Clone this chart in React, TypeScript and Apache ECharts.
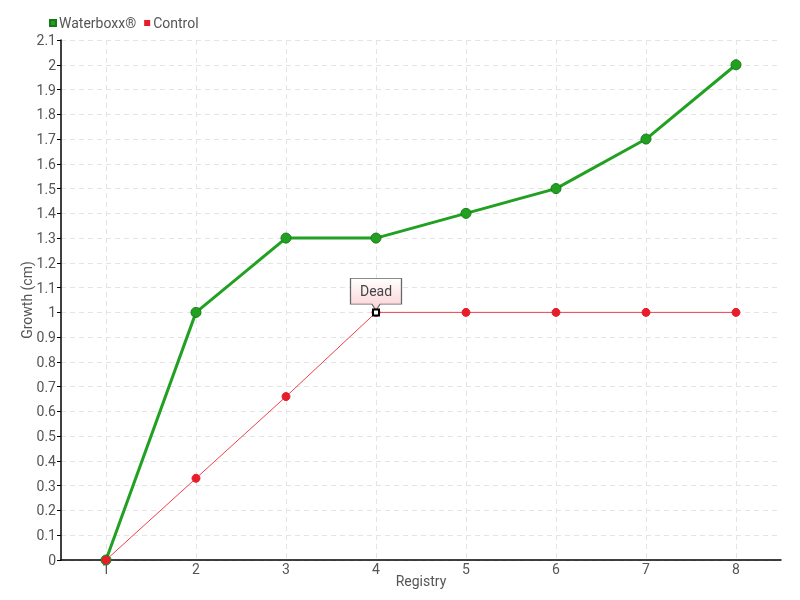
import React, { useEffect, useRef } from "react";
import * as echarts from "echarts";

const categories = ["1", "2", "3", "4", "5", "6", "7", "8"];
const waterboxxValues = [0, 1, 1.3, 1.3, 1.4, 1.5, 1.7, 2.0];
const controlValues = [0, 0.33, 0.66, 1, 1, 1, 1, 1];
const deadPoint = { x: "4", y: 1, label: "Dead" };

const FONT = 'Roboto, "Liberation Sans Narrow", sans-serif';

export default function App() {
  const ref = useRef<HTMLDivElement>(null);
  useEffect(() => {
    if (!ref.current) return;
    const chart = echarts.init(ref.current, null, { renderer: "svg" });
    chart.setOption({
      animation: false,
      textStyle: { fontFamily: FONT },
      legend: {
        left: 44,
        top: 11,
        icon: "rect",
        itemWidth: 6,
        itemHeight: 6,
        itemGap: 8,
        textStyle: { color: "#555", fontSize: 14, fontFamily: FONT, padding: [0, 0, 0, -2] },
        data: ["Waterboxx®", "Control"],
      },
      grid: { left: 61, right: 19, top: 40, bottom: 40, outerBoundsMode: "none" },
      xAxis: {
        type: "category",
        data: categories,
        name: "Registry",
        nameLocation: "middle",
        nameGap: 14,
        nameMoveOverlap: false,
        nameTextStyle: { color: "#555", fontSize: 14, fontFamily: FONT },
        axisLine: { lineStyle: { color: "#000", width: 1.5 } },
        axisTick: { alignWithLabel: true, lineStyle: { color: "#000" }, length: 4 },
        axisLabel: { color: "#555", fontSize: 14, fontFamily: FONT, margin: 2 },
        splitLine: { show: true, alignWithLabel: true, lineStyle: { color: "#e4e4e4", type: [5, 4] } },
      },
      yAxis: {
        type: "value",
        min: 0,
        max: 2.1,
        interval: 0.1,
        name: "Growth (cm)",
        nameLocation: "middle",
        nameGap: 27,
        nameMoveOverlap: false,
        nameTextStyle: { color: "#555", fontSize: 14, fontFamily: FONT },
        axisLine: { show: true, lineStyle: { color: "#000", width: 1.5 } },
        axisTick: { show: true, lineStyle: { color: "#000" }, length: 4 },
        axisLabel: {
          color: "#555",
          fontSize: 14,
          fontFamily: FONT,
          margin: 5,
          formatter: (v: number) => String(Math.round(v * 10) / 10),
        },
        splitLine: { show: true, lineStyle: { color: "#e4e4e4", type: [5, 4] } },
      },
      series: [
        {
          name: "Waterboxx®",
          type: "line",
          data: waterboxxValues,
          symbol: "circle",
          symbolSize: 10,
          z: 2,
          lineStyle: { color: "#22a022", width: 3 },
          itemStyle: { color: "#22a022", borderColor: "#177a17", borderWidth: 1 },
        },
        {
          name: "Control",
          type: "line",
          data: controlValues,
          symbol: "circle",
          symbolSize: 8,
          z: 3,
          lineStyle: { color: "#f0404c", width: 1 },
          itemStyle: { color: "#e81c2a", borderColor: "#e81c2a" },
          markPoint: {
            z: 10,
            data: [
              {
                coord: [deadPoint.x, deadPoint.y],
                symbol: "path://M0,0 L50,0 L50,25 L29,25 L25,31 L21,25 L0,25 Z",
                symbolSize: [51, 32],
                symbolOffset: [0, -18],
                symbolKeepAspect: false,
                itemStyle: {
                  color: {
                    type: "linear",
                    x: 0, y: 0, x2: 0, y2: 1,
                    colorStops: [
                      { offset: 0, color: "#ffffff" },
                      { offset: 1, color: "#fbd0d3" },
                    ],
                  },
                  borderColor: "#666",
                  borderWidth: 1,
                },
                label: {
                  show: true,
                  formatter: deadPoint.label,
                  position: "inside",
                  offset: [0, -3],
                  color: "#444",
                  fontSize: 14,
                  fontFamily: FONT,
                },
              },
              {
                coord: [deadPoint.x, deadPoint.y],
                symbol: "rect",
                symbolSize: 6,
                itemStyle: { color: "#fff", borderColor: "#000", borderWidth: 2 },
                label: { show: false },
              },
            ],
          },
        },
      ],
    });
    return () => chart.dispose();
  }, []);
  return (
    <div
      ref={ref}
      style={{ position: "fixed", left: 0, top: 0, width: 800, height: 600 }}
    />
  );
}
